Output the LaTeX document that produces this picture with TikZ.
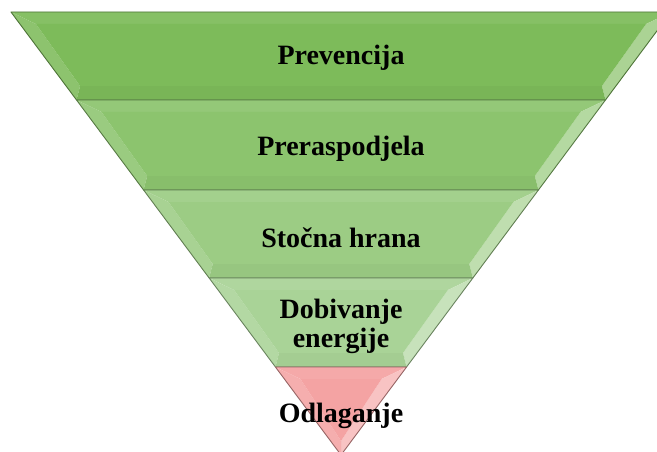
\documentclass[tikz,border=0pt]{standalone}
\usepackage{fontspec}
\setmainfont{Liberation Serif}
\usepackage{tikz}
\definecolor{lvlA}{RGB}{125,187,90}
\definecolor{lvlB}{RGB}{140,196,110}
\definecolor{lvlC}{RGB}{156,204,132}
\definecolor{lvlD}{RGB}{169,211,151}
\definecolor{lvlE}{RGB}{244,163,163}
\tikzset{
  lbl/.style={font=\bfseries\fontsize{28}{29}\selectfont, align=center, inner sep=0pt},
  rim/.style={line width=0.9pt, line join=round}
}
% one band of the funnel: top y, bottom y, colour
\newcommand{\band}[3]{%
  \pgfmathsetmacro{\hTop}{(455-#1)*0.745}
  \pgfmathsetmacro{\hBot}{(455-#2)*0.745}
  \pgfmathsetmacro{\yiT}{#1+12}
  \pgfmathsetmacro{\yiB}{#2-14}
  \pgfmathsetmacro{\iTop}{(455-\yiT)*0.745-16}
  \pgfmathsetmacro{\iBot}{max((455-\yiB)*0.745-14,0)}
  \coordinate (oTL) at (341-\hTop,#1);
  \coordinate (oTR) at (341+\hTop,#1);
  \coordinate (oBR) at (341+\hBot,#2);
  \coordinate (oBL) at (341-\hBot,#2);
  \coordinate (iTL) at (341-\iTop,\yiT);
  \coordinate (iTR) at (341+\iTop,\yiT);
  \coordinate (iBR) at (341+\iBot,\yiB);
  \coordinate (iBL) at (341-\iBot,\yiB);
  \fill[#3!93!white] (oTL) -- (oTR) -- (iTR) -- (iTL) -- cycle;
  \fill[#3!88!white] (oTL) -- (iTL) -- (iBL) -- (oBL) -- cycle;
  \fill[#3!65!white] (oTR) -- (oBR) -- (iBR) -- (iTR) -- cycle;
  \fill[#3!97!black] (oBL) -- (iBL) -- (iBR) -- (oBR) -- cycle;
  \fill[#3] (iTL) -- (iTR) -- (iBR) -- (iBL) -- cycle;
  \draw[rim, #3!62!black] (oTL) -- (oTR) -- (oBR) -- (oBL) -- cycle;
}

\begin{document}
\begin{tikzpicture}[x=1pt, y=-1pt]
  \useasboundingbox (0,0) rectangle (657,452);
  \clip (0,0) rectangle (657,452);
  %bands, top to bottom
  \band{12}{100}{lvlA}
  \band{100}{190}{lvlB}
  \band{190}{278}{lvlC}
  \band{278}{367}{lvlD}
  \band{367}{455}{lvlE}
  %labels
  \node[lbl, anchor=base] (prev) at (341,65) {Prevencija};
  \node[lbl, anchor=base] (preras) at (341,156) {Preraspodjela};
  \node[lbl, anchor=base] (stocna) at (341,247) {Stočna hrana};
  \node[lbl] (energ) at (341,326) {Dobivanje\\energije};
  \node[lbl, anchor=base] (odlag) at (341,422) {Odlaganje};
\end{tikzpicture}
\end{document}
